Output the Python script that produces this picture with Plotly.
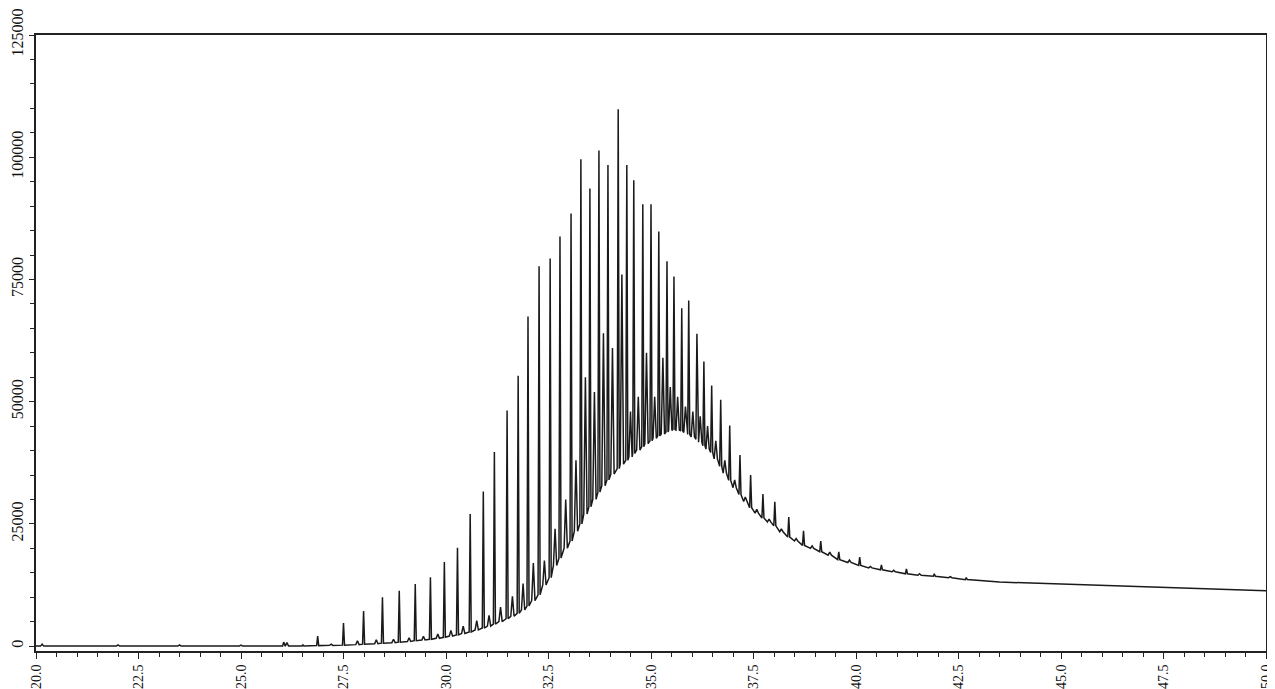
import plotly.graph_objects as go

# ---- data (retention time in min, intensity in counts) ----
# baseline sections outside the peak cluster
base_t = [20.0, 20.6, 21.5, 22.5, 23.0, 24.0, 24.6, 25.5, 26.5, 43.5, 44.96, 46.2, 47.47, 48.7, 50.0]
base_y = [0, 0, 0, 0, 0, 0, 0, 0, 50, 13100, 12700, 12300, 11900, 11600, 11300]

# main (n-alkane) peaks: apex time, apex height, baseline under the peak
main_t = [26.04, 26.87, 27.50, 27.99, 28.45, 28.86, 29.25, 29.62, 29.96, 30.28,
          30.59, 30.91, 31.18, 31.49, 31.76, 32.00, 32.27, 32.54, 32.78, 33.05,
          33.29, 33.51, 33.73, 33.95, 34.20, 34.41, 34.58, 34.80, 35.00, 35.19,
          35.39, 35.56, 35.75, 35.92, 36.12, 36.29, 36.48, 36.70, 36.92, 37.17,
          37.43, 37.73, 38.02, 38.36, 38.72, 39.14, 39.58, 40.09, 40.62, 41.23,
          41.91, 42.69]
main_h = [820, 2050, 4700, 7200, 10000, 11300, 12700, 14100, 17200, 20100,
          27000, 31600, 39700, 48200, 55300, 67400, 77700, 79300, 83800, 88500,
          99600, 93600, 101400, 98400, 109800, 98400, 95300, 90400, 90400, 84800,
          78700, 75600, 69100, 70700, 63900, 58200, 53300, 50400, 45100, 39100,
          35000, 31100, 29500, 26400, 23600, 21500, 19300, 18200, 16600, 15800,
          14800, 14000]
main_base = [0, 100, 200, 400, 600, 800, 1100, 1400, 1800, 2300,
             2900, 3700, 4500, 5600, 6700, 8200, 10500, 14000, 18000, 21500,
             25000, 28500, 31500, 34000, 36300, 38000, 39400, 40800, 42000, 43000,
             43800, 44300, 44000, 43300, 42300, 41000, 39600, 36800, 33900, 31000,
             28300, 26200, 24600, 22300, 20600, 19300, 17700, 16500, 15600, 14800,
             14300, 13600]

# secondary (branched / unresolved) peaks
sec_t = [20.15, 22.0, 23.5, 25.0, 26.12, 26.50, 27.20, 27.84, 28.30, 28.72,
         29.10, 29.45, 29.80, 30.12, 30.42, 30.75, 31.05, 31.33, 31.62, 31.88,
         32.13, 32.40, 32.66, 32.92, 33.17, 33.40, 33.62, 33.84, 34.06, 34.29,
         34.50, 34.69, 34.89, 35.09, 35.29, 35.47, 35.65, 35.84, 36.02, 36.20,
         36.38, 36.58, 36.80, 37.04, 37.30, 37.58, 37.88, 38.18, 38.54, 38.93,
         39.36, 39.84, 40.35, 40.92, 41.55, 42.30]
sec_h = [400, 250, 250, 200, 700, 300, 400, 1100, 1300, 1400,
         1700, 2000, 2500, 3200, 4100, 5200, 6300, 8000, 10200, 12800,
         17000, 17500, 24000, 30000, 38000, 55000, 52000, 64000, 61000, 76000,
         48000, 51000, 60000, 51000, 59000, 53000, 51000, 49000, 48000, 47000,
         45000, 42000, 38000, 34000, 30500, 28000, 26000, 24000, 22000, 20500,
         19200, 17600, 16300, 15500, 14800, 14200]
sec_base = [0, 0, 0, 0, 0, 0, 150, 300, 500, 700,
            950, 1250, 1600, 2050, 2600, 3300, 4100, 5000, 6100, 7400,
            9300, 12500, 16500, 20000, 23500, 27000, 30000, 32800, 35200, 37200,
            38700, 40100, 41400, 42500, 43400, 44100, 44200, 43700, 42800, 41700,
            40300, 38300, 35400, 32400, 29600, 27200, 25400, 23400, 21500, 20000,
            18600, 17100, 16000, 15200, 14500, 14000]

# ---- build the trace vertices from the peak table ----
HW_MAIN = 0.025
HW_SEC = 0.04
pts = list(zip(base_t, base_y))
for t, h, b in zip(main_t, main_h, main_base):
    pts += [(t - HW_MAIN, b), (t, h), (t + HW_MAIN, b)]
for t, h, b in zip(sec_t, sec_h, sec_base):
    pts += [(t - HW_SEC, b), (t, h), (t + HW_SEC, b)]
pts.sort(key=lambda p: p[0])
xs = [p[0] for p in pts]
ys = [p[1] for p in pts]

fig = go.Figure()
fig.add_trace(go.Scatter(x=xs, y=ys, mode="lines",
                         line=dict(color="#1a1a1a", width=1.5),
                         hoverinfo="skip", showlegend=False))

serif = "Liberation Serif, Times New Roman, serif"
# the page body adds an 8px offset, so margins are reduced accordingly
fig.update_layout(
    width=1275, height=689,
    margin=dict(l=28, r=17, t=27, b=46),
    paper_bgcolor="white", plot_bgcolor="white",
    xaxis=dict(range=[20, 50], dtick=2.5, tick0=20, tickformat=".1f",
               tickangle=-90, ticks="outside", ticklen=6, tickwidth=1.2,
               tickcolor="#222", showgrid=False, zeroline=False, automargin=False,
               showline=True, linecolor="#222", linewidth=1.6, mirror=True,
               ticklabeloverflow="allow",
               tickfont=dict(family=serif, size=14, color="#111"),
               minor=dict(dtick=0.5, tick0=20, ticks="outside", ticklen=4,
                          tickwidth=1.1, tickcolor="#222", showgrid=False)),
    yaxis=dict(range=[-1000, 125000], dtick=25000, tick0=0, tickformat="d",
               tickangle=-90, ticks="outside", ticklen=5, tickwidth=1.2,
               tickcolor="#222", showgrid=False, zeroline=False, automargin=False,
               showline=True, linecolor="#222", linewidth=1.6, mirror=True,
               ticklabeloverflow="allow", ticklabelstandoff=0,
               tickfont=dict(family=serif, size=16, color="#111"),
               minor=dict(dtick=5000, tick0=0, ticks="outside", ticklen=4,
                          tickwidth=1.1, tickcolor="#222", showgrid=False)),
)

fig.write_html("out.html")
